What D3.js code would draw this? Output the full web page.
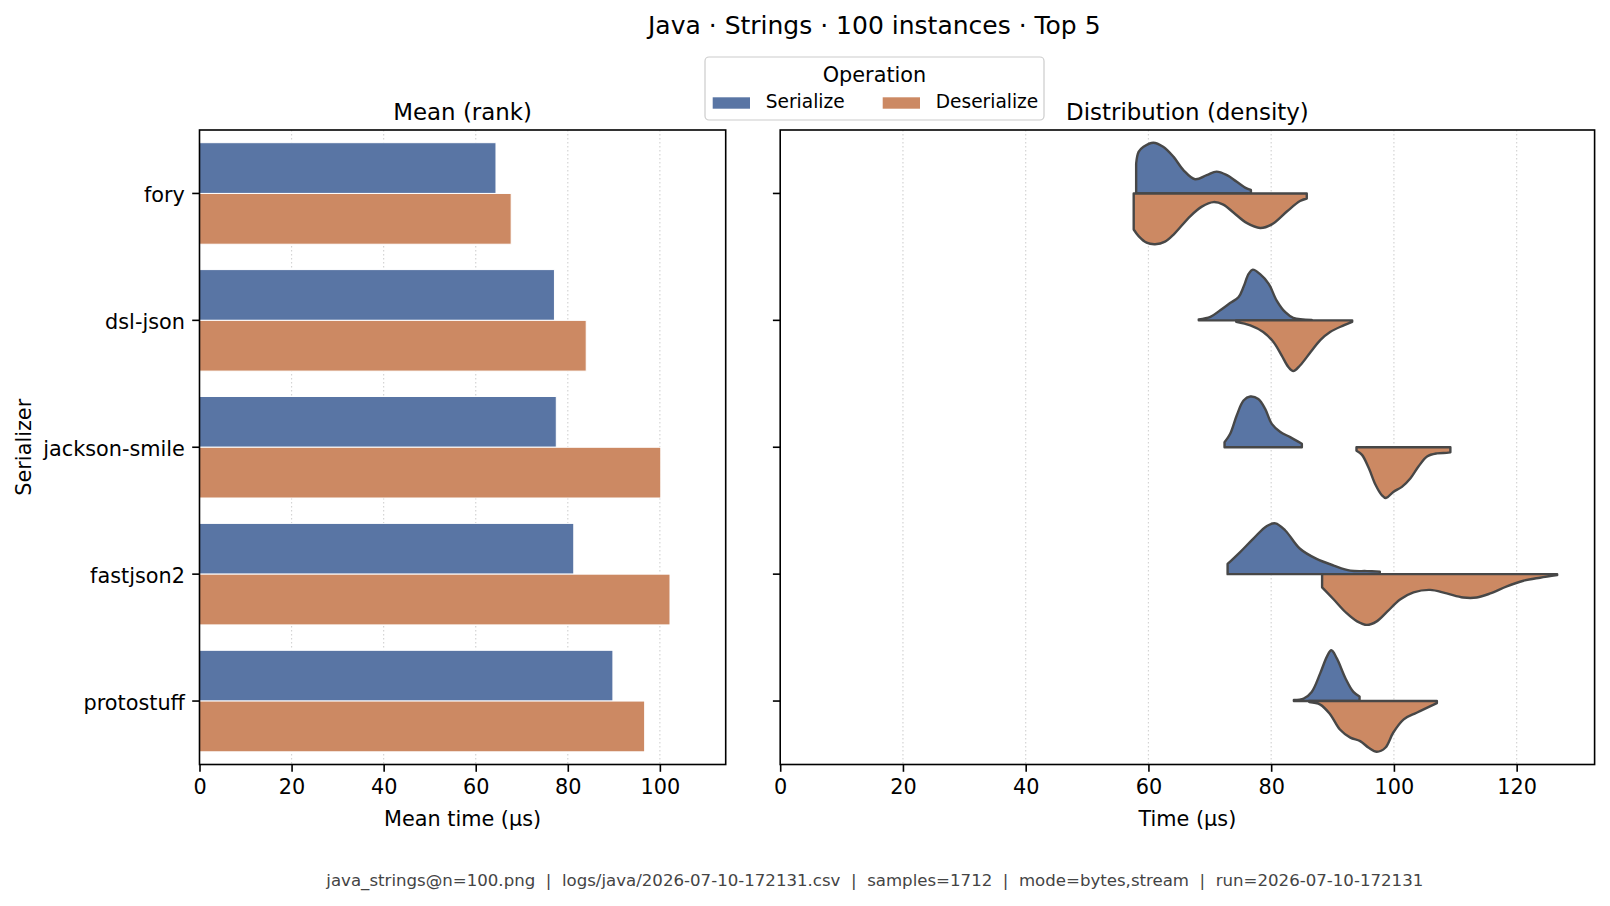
<!DOCTYPE html>
<html>
<head>
<meta charset="utf-8">
<script src="https://cdn.jsdelivr.net/npm/d3@7"></script>
<style>
  html, body { margin: 0; padding: 0; background: #fff; }
  svg { display: block; font-family: "DejaVu Sans", sans-serif; }
</style>
</head>
<body>
<svg id="chart" width="1610" height="906"></svg>
<script>
// ---------------- data ----------------
const categories = ["fory", "dsl-json", "jackson-smile", "fastjson2", "protostuff"];
const operations = ["Serialize", "Deserialize"];
const serializeMeans = [64.4, 77.1, 77.5, 81.3, 89.8];
const deserializeMeans = [67.7, 84.0, 100.2, 102.2, 96.7];
const meanTicks = [0, 20, 40, 60, 80, 100];
const timeTicks = [0, 20, 40, 60, 80, 100, 120];

// density profiles: [time (µs), relative density]
const serializeProfiles = [
  [[58.0,.59],[58.4,.82],[59.2,.92],[60.8,1.0],[62.4,.92],[64.1,.72],[65.7,.46],[67.6,.28],[69.5,.36],[71.1,.43],[72.8,.36],[74.4,.23],[76.0,.10],[76.7,.07]],
  [[68.2,.02],[70.1,.07],[71.7,.2],[73.3,.34],[74.7,.46],[75.5,.66],[76.3,.91],[77.0,1.0],[78.2,.91],[79.6,.72],[80.9,.39],[82.3,.16],[83.6,.05],[86.6,.01]],
  [[72.4,.1],[73.3,.26],[74.4,.63],[75.5,.92],[76.6,1.0],[77.9,.95],[79.0,.76],[80.1,.46],[81.5,.3],[83.1,.2],[85.0,.07]],
  [[72.9,.2],[74.9,.43],[77.1,.7],[79.3,.95],[80.7,1.0],[82.3,.86],[84.7,.5],[87.4,.3],[90.2,.17],[92.9,.07],[95.6,.06],[97.7,.05]],
  [[83.7,.02],[85.3,.05],[86.6,.18],[88.0,.55],[89.1,.88],[89.8,1.0],[90.7,.84],[92.1,.45],[93.4,.18],[94.4,.09]]
];
const deserializeProfiles = [
  [[57.6,.71],[58.4,.84],[59.7,.97],[61.1,1.0],[62.7,.95],[64.1,.81],[66.8,.45],[68.7,.26],[70.6,.17],[72.2,.22],[73.9,.38],[76.0,.58],[78.2,.68],[80.1,.61],[82.6,.35],[84.7,.15],[85.8,.10]],
  [[74.3,.03],[76.6,.1],[78.7,.23],[80.4,.43],[81.7,.69],[82.8,.92],[83.6,1.0],[84.7,.89],[86.4,.63],[88.0,.39],[89.6,.23],[91.8,.1],[93.2,.03]],
  [[93.9,.07],[94.8,.15],[95.9,.41],[97.0,.74],[98.0,.94],[98.7,1.0],[99.9,.88],[101.3,.78],[102.7,.61],[104.0,.38],[105.4,.18],[107.0,.12],[108.6,.11],[109.2,.1]],
  [[88.3,.26],[90.2,.5],[92.3,.77],[94.0,.93],[95.6,1.0],[97.2,.93],[98.9,.74],[101.0,.5],[103.2,.36],[105.9,.31],[108.6,.38],[111.3,.46],[113.5,.46],[115.7,.38],[118.4,.24],[121.1,.13],[123.8,.07],[126.6,.02]],
  [[86.2,.02],[88.0,.07],[89.6,.26],[91.2,.56],[92.9,.72],[94.5,.79],[95.9,.92],[97.2,1.0],[98.6,.92],[99.9,.62],[101.6,.36],[103.7,.23],[107.0,.04]]
];

const suptitle = "Java · Strings · 100 instances · Top 5";
const footer = "java_strings@n=100.png  |  logs/java/2026-07-10-172131.csv  |  samples=1712  |  mode=bytes,stream  |  run=2026-07-10-172131";

// ---------------- styles / layout ----------------
const colors = { Serialize: "#5975a4", Deserialize: "#cc8963" };
const edgeColor = "#474747";
const tickFont = 20.8, titleFont = 25, axTitleFont = 22.9;

const svg = d3.select("#chart");
const plotTop = 130, plotBottom = 764.5;
const leftBox = { x0: 199.5, x1: 725.7 };
const rightBox = { x0: 780.2, x1: 1594.6 };

const y = d3.scaleBand().domain(categories).range([plotTop, plotBottom]).paddingInner(0).paddingOuter(0);
const step = y.step();
const yc = c => y(c) + step / 2;

const xL = d3.scaleLinear().domain([0, 114.3]).range([leftBox.x0, leftBox.x1]);
const xR = d3.scaleLinear().domain([0, 132.7]).range([rightBox.x0, rightBox.x1]);

function grid(g, x, ticks) {
  g.selectAll("line.grid").data(ticks.filter(t => t > 0)).join("line")
    .attr("class", "grid")
    .attr("x1", d => x(d)).attr("x2", d => x(d))
    .attr("y1", plotTop).attr("y2", plotBottom)
    .attr("stroke", "#d4d4d4").attr("stroke-width", 1.2)
    .attr("stroke-dasharray", "1.4,2.6");
}

function frame(g, x, box, ticks, showYLabels) {
  const ax = g.append("g").attr("transform", `translate(0,${plotBottom})`)
    .call(d3.axisBottom(x).tickValues(ticks).tickSize(7.3).tickPadding(7).tickFormat(d3.format("d")));
  ax.select(".domain").remove();
  ax.selectAll("line").attr("stroke", "#000").attr("stroke-width", 1.6);
  ax.selectAll("text").attr("font-size", tickFont).attr("fill", "#000")
    .attr("font-family", "DejaVu Sans");
  const ay = g.append("g").attr("transform", `translate(${box.x0},0)`)
    .call(d3.axisLeft(y).tickSize(7.3).tickPadding(7.3));
  ay.select(".domain").remove();
  ay.selectAll("line").attr("stroke", "#000").attr("stroke-width", 1.6);
  ay.selectAll("text").attr("font-size", tickFont).attr("fill", "#000")
    .attr("font-family", "DejaVu Sans").attr("dy", "0.42em");
  if (!showYLabels) ay.selectAll("text").remove();
  g.append("rect").attr("x", box.x0).attr("y", plotTop)
    .attr("width", box.x1 - box.x0).attr("height", plotBottom - plotTop)
    .attr("fill", "none").attr("stroke", "#000").attr("stroke-width", 1.6);
}

// ---------------- left panel: bars ----------------
const gL = svg.append("g");
grid(gL, xL, meanTicks);
const barH = step * 0.4;
const rows = categories.map((c, i) => ({ c, ser: serializeMeans[i], des: deserializeMeans[i] }));
gL.selectAll("rect.ser").data(rows).join("rect")
  .attr("class", "ser")
  .attr("x", xL(0)).attr("y", d => yc(d.c) - barH)
  .attr("width", d => xL(d.ser) - xL(0)).attr("height", barH)
  .attr("fill", colors.Serialize).attr("stroke", "#fff").attr("stroke-width", 1);
gL.selectAll("rect.des").data(rows).join("rect")
  .attr("class", "des")
  .attr("x", xL(0)).attr("y", d => yc(d.c))
  .attr("width", d => xL(d.des) - xL(0)).attr("height", barH)
  .attr("fill", colors.Deserialize).attr("stroke", "#fff").attr("stroke-width", 1);
frame(gL, xL, leftBox, meanTicks, true);

// ---------------- right panel: split violins ----------------
const gR = svg.append("g");
grid(gR, xR, timeTicks);
const halfW = step * 0.4;
categories.forEach((c, i) => {
  const cy = yc(c);
  const up = d3.area().x(d => xR(d[0])).y0(cy).y1(d => cy - d[1] * halfW)
    .curve(d3.curveCatmullRom.alpha(0.5));
  const down = d3.area().x(d => xR(d[0])).y0(cy).y1(d => cy + d[1] * halfW)
    .curve(d3.curveCatmullRom.alpha(0.5));
  gR.append("path").attr("d", up(serializeProfiles[i]))
    .attr("fill", colors.Serialize).attr("stroke", edgeColor).attr("stroke-width", 2.4)
    .attr("stroke-linejoin", "round");
  gR.append("path").attr("d", down(deserializeProfiles[i]))
    .attr("fill", colors.Deserialize).attr("stroke", edgeColor).attr("stroke-width", 2.4)
    .attr("stroke-linejoin", "round");
});
frame(gR, xR, rightBox, timeTicks, false);

// ---------------- texts ----------------
svg.append("text").attr("x", 874.3).attr("y", 34).attr("text-anchor", "middle")
  .attr("font-size", titleFont).text(suptitle);
svg.append("text").attr("x", (leftBox.x0 + leftBox.x1) / 2).attr("y", 119.5).attr("text-anchor", "middle")
  .attr("font-size", axTitleFont).text("Mean (rank)");
svg.append("text").attr("x", (rightBox.x0 + rightBox.x1) / 2).attr("y", 119.5).attr("text-anchor", "middle")
  .attr("font-size", axTitleFont).text("Distribution (density)");
svg.append("text").attr("x", (leftBox.x0 + leftBox.x1) / 2).attr("y", 826).attr("text-anchor", "middle")
  .attr("font-size", tickFont).text("Mean time (µs)");
svg.append("text").attr("x", (rightBox.x0 + rightBox.x1) / 2).attr("y", 826).attr("text-anchor", "middle")
  .attr("font-size", tickFont).text("Time (µs)");
svg.append("text").attr("transform", `translate(31,${(plotTop + plotBottom) / 2}) rotate(-90)`)
  .attr("text-anchor", "middle").attr("font-size", tickFont).text("Serializer");
svg.append("text").attr("x", 874.8).attr("y", 886).attr("text-anchor", "middle")
  .attr("font-size", 16.6).attr("fill", "#444").style("white-space", "pre").text(footer);

// ---------------- legend ----------------
const lg = svg.append("g");
lg.append("rect").attr("x", 705).attr("y", 57).attr("width", 339).attr("height", 63).attr("rx", 4)
  .attr("fill", "#fff").attr("fill-opacity", 0.8).attr("stroke", "#cccccc").attr("stroke-width", 1.2);
lg.append("text").attr("x", 874.5).attr("y", 81.7).attr("text-anchor", "middle")
  .attr("font-size", tickFont).text("Operation");
const legendX = [712.7, 882.7];
operations.forEach((op, i) => {
  lg.append("rect").attr("x", legendX[i]).attr("y", 97.3).attr("width", 37.3).attr("height", 11.4)
    .attr("fill", colors[op]);
  lg.append("text").attr("x", legendX[i] + 53).attr("y", 108.3).attr("font-size", 18.6).text(op);
});
</script>
</body>
</html>
